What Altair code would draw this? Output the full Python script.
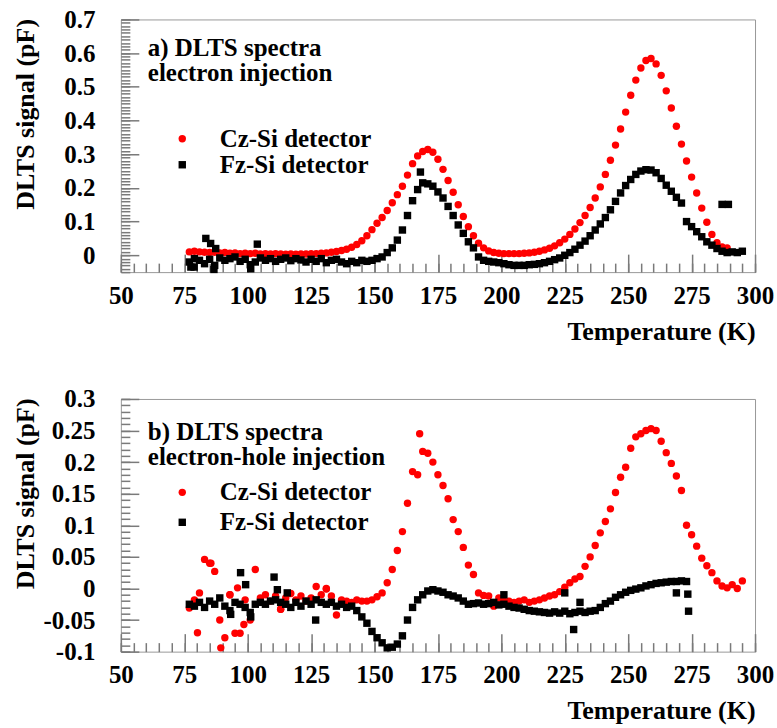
import altair as alt
import pandas as pd

# ---------------- data ----------------
DETS = ["Cz-Si detector", "Fz-Si detector"]

X_MAJOR = [50, 75, 100, 125, 150, 175, 200, 225, 250, 275, 300]
X_MINOR = list(range(50, 301, 5))
YA_MAJOR = [0, 0.1, 0.2, 0.3, 0.4, 0.5, 0.6, 0.7]
YA_MINOR = [round(i / 100, 2) for i in range(-5, 71)]
YB_MAJOR = [-0.1, -0.05, 0, 0.05, 0.1, 0.15, 0.2, 0.25, 0.3]
YB_MINOR = [round(i / 100, 2) for i in range(-10, 31)]

# panel a, Cz-Si (T = 77 ... 289 K, every 2 K)
A_CZ_T = list(range(77, 290, 2))
A_CZ_V = [0.010, 0.012, 0.010, 0.009, 0.008, 0.009, 0.007, 0.008, 0.006, 0.007,
          0.005, 0.006, 0.005, 0.006, 0.004, 0.005, 0.004, 0.005, 0.004, 0.003,
          0.004, 0.003, 0.004, 0.004, 0.005, 0.005, 0.006, 0.007, 0.009, 0.011,
          0.014, 0.018, 0.024, 0.032, 0.043, 0.058, 0.076, 0.095, 0.112, 0.133,
          0.156, 0.180, 0.205, 0.238, 0.272, 0.295, 0.308, 0.314, 0.306, 0.285,
          0.255, 0.222, 0.187, 0.150, 0.115, 0.085, 0.058, 0.036, 0.022, 0.013,
          0.008, 0.006, 0.005, 0.005, 0.005, 0.005, 0.006, 0.007, 0.009, 0.012,
          0.016, 0.021, 0.028, 0.037, 0.048, 0.062, 0.078, 0.097, 0.118, 0.142,
          0.170, 0.203, 0.240, 0.282, 0.327, 0.375, 0.425, 0.475, 0.520, 0.556,
          0.578, 0.584, 0.568, 0.534, 0.488, 0.437, 0.383, 0.330, 0.280, 0.232,
          0.185, 0.140, 0.098, 0.062, 0.037, 0.025, 0.022]

# panel a, Fz-Si (T = 77 ... 295 K, every 2 K) + scattered points
A_FZ_T = list(range(77, 296, 2))
A_FZ_V = [-0.020, -0.010, -0.015, -0.025, -0.012, -0.030, -0.008, -0.015, -0.010, -0.005,
          -0.018, -0.012, -0.028, -0.020, -0.008, -0.015, -0.010, -0.018, -0.012, -0.008,
          -0.016, -0.010, -0.014, -0.020, -0.012, -0.018, -0.010, -0.022, -0.015, -0.012,
          -0.020, -0.025, -0.018, -0.022, -0.015, -0.018, -0.015, -0.010, -0.005, 0.008,
          0.022, 0.045, 0.075, 0.118, 0.162, 0.195, 0.215, 0.212, 0.205, 0.188,
          0.170, 0.145, 0.118, 0.090, 0.065, 0.040, 0.022, -0.005, -0.015, -0.018,
          -0.020, -0.022, -0.025, -0.028, -0.030, -0.030, -0.030, -0.028, -0.027, -0.025,
          -0.022, -0.018, -0.013, -0.008, 0.000, 0.008, 0.018, 0.030, 0.042, 0.058,
          0.075, 0.093, 0.112, 0.135, 0.160, 0.185, 0.207, 0.225, 0.240, 0.250,
          0.254, 0.253, 0.245, 0.228, 0.208, 0.190, 0.172, 0.155, 0.100, 0.085,
          0.070, 0.055, 0.040, 0.030, 0.020, 0.012, 0.008, 0.010, 0.008, 0.012]
A_FZ_EXTRA_T = [77.6, 78.9, 83.5, 85.4, 87.4, 86.7, 101.2, 103.8, 168.1, 287.0, 289.5]
A_FZ_EXTRA_V = [-0.035, -0.035, 0.050, 0.035, 0.020, -0.042, -0.040, 0.033, 0.247, 0.151, 0.151]

# panel b, Cz-Si (T = 77 ... 295 K, every 2 K) + scattered points
B_CZ_T = list(range(77, 296, 2))
B_CZ_V = [-0.031, -0.018, -0.007, 0.046, 0.040, 0.027, -0.050, -0.078, -0.010, -0.071,
          -0.071, -0.018, -0.050, 0.030, -0.015, -0.010, -0.020, -0.012, -0.033, -0.015,
          -0.008, -0.018, -0.012, -0.020, -0.015, 0.003, -0.010, 0.000, -0.012, -0.042,
          -0.018, -0.020, -0.022, -0.018, -0.020, -0.020, -0.018, -0.013, -0.007, 0.009,
          0.030, 0.060, 0.090, 0.135, 0.185, 0.180, 0.217, 0.214, 0.200, 0.180,
          0.163, 0.142, 0.109, 0.090, 0.065, 0.037, 0.022, -0.007, -0.011, -0.012,
          -0.028, -0.015, -0.020, -0.020, -0.022, -0.020, -0.018, -0.022, -0.020, -0.018,
          -0.015, -0.012, -0.010, -0.005, 0.002, 0.009, 0.015, 0.019, 0.035, 0.050,
          0.068, 0.088, 0.106, 0.126, 0.152, 0.176, 0.192, 0.222, 0.240, 0.245,
          0.250, 0.253, 0.250, 0.233, 0.215, 0.198, 0.178, 0.155, 0.100, 0.085,
          0.067, 0.048, 0.036, 0.025, 0.012, 0.004, 0.001, 0.006, 0.000, 0.012]
B_CZ_EXTRA_T = [167.8, 80.2, 89.4, 98.5, 85.5, 93.0, 96.0, 131.0, 113.0]
B_CZ_EXTRA_V = [0.245, -0.070, -0.094, -0.057, 0.040, -0.010, 0.001, -0.001, -0.033]

# panel b, Fz-Si (T = 77 ... 273 K, every 2 K) + scattered points
B_FZ_T = list(range(77, 274, 2))
B_FZ_V = [-0.025, -0.028, -0.022, -0.030, -0.020, -0.025, -0.015, -0.028, -0.035, -0.022,
          -0.025, -0.030, -0.038, -0.025, -0.022, -0.025, -0.020, -0.018, -0.022, -0.025,
          -0.030, -0.022, -0.028, -0.020, -0.025, -0.018, -0.022, -0.025, -0.022, -0.028,
          -0.025, -0.030, -0.028, -0.035, -0.045, -0.055, -0.068, -0.078, -0.086, -0.094,
          -0.093, -0.088, -0.075, -0.050, -0.030, -0.018, -0.010, -0.004, -0.002, -0.004,
          -0.006, -0.010, -0.012, -0.015, -0.020, -0.025, -0.024, -0.023, -0.025, -0.024,
          -0.022, -0.026, -0.025, -0.028, -0.030, -0.031, -0.033, -0.035, -0.036, -0.037,
          -0.038, -0.039, -0.037, -0.039, -0.036, -0.040, -0.038, -0.036, -0.038, -0.036,
          -0.035, -0.030, -0.024, -0.020, -0.014, -0.010, -0.006, -0.003, -0.001, 0.001,
          0.004, 0.006, 0.008, 0.009, 0.010, 0.011, 0.011, 0.012, 0.011]
B_FZ_EXTRA_T = [93.3, 97.2, 99.2, 101.2, 110.4, 111.7, 115.6, 126.8, 201.0, 225.0,
                228.5, 231.0, 269.0, 273.5, 273.8]
B_FZ_EXTRA_V = [-0.041, 0.025, 0.006, -0.045, 0.018, -0.002, -0.007, -0.050, -0.010, -0.007,
                -0.065, -0.022, -0.007, -0.009, -0.036]

# ---------------- styling ----------------
FONT = "Liberation Serif"
W, H = 635, 253
MAJ, MIN = 18, 9
GRAY = "#999999"
TICK = "#7a7a7a"
LBL = dict(labelFont=FONT, labelFontSize=25, labelFontWeight="bold", labelColor="#000000")
TTL = dict(titleFont=FONT, titleFontSize=26, titleFontWeight="bold", titleColor="#000000")


def panel(cz_t, cz_v, fz_t, fz_v, ydom, ymaj, ymin, text, text_y, legend_y, row_pad):
    cz = pd.DataFrame({"T": cz_t, "v": cz_v, "det": DETS[0]})
    fz = pd.DataFrame({"T": fz_t, "v": fz_v, "det": DETS[1]})
    xs = alt.Scale(domain=[50, 300], nice=False, zero=False)
    ys = alt.Scale(domain=ydom, nice=False, zero=False)
    leg = alt.Legend(title=None, orient="none", legendX=49, legendY=legend_y,
                     labelFont=FONT, labelFontSize=25, labelFontWeight="bold",
                     labelColor="#000000", symbolSize=55, symbolStrokeWidth=0,
                     labelOffset=25, rowPadding=row_pad)
    color = alt.Color("det:N", scale=alt.Scale(domain=DETS, range=["#ff0000", "#000000"]), legend=leg)
    shape = alt.Shape("det:N", scale=alt.Scale(domain=DETS, range=["circle", "square"]), legend=leg)

    major_x = alt.Axis(orient="bottom", values=X_MAJOR, tickSize=MAJ, offset=-MAJ, domain=False,
                       grid=False, tickColor=TICK, tickWidth=1.5, labelPadding=11,
                       labelFlush=False, labelOverlap=False, labelExpr="'' + datum.value",
                       titleAnchor="end", titleAlign="right", titleBaseline="middle",
                       titleX=W, titleY=59 + MAJ, **LBL, **TTL)
    major_y = alt.Axis(orient="left", values=ymaj, tickSize=MAJ, offset=-MAJ, domain=False,
                       grid=False, tickColor=TICK, tickWidth=1.5, labelPadding=26,
                       labelFlush=False, labelOverlap=False, labelExpr="'' + datum.value",
                       titleAngle=-90, titleAlign="right", titleBaseline="middle",
                       titleX=-95 - MAJ, titleY=-1, **LBL, **TTL)
    minor_x = alt.Axis(orient="bottom", values=X_MINOR, tickSize=MIN, offset=-MIN, domain=False,
                       grid=False, tickColor=TICK, tickWidth=1.5, labels=False)
    minor_y = alt.Axis(orient="left", values=ymin, tickSize=MIN, offset=-MIN, domain=False,
                       grid=False, tickColor=TICK, tickWidth=1.5, labels=False)

    pts = dict(filled=True, opacity=1, size=55, strokeWidth=0)
    l_cz = alt.Chart(cz).mark_point(**pts).encode(
        x=alt.X("T:Q", scale=xs, axis=major_x, title="Temperature (K)"),
        y=alt.Y("v:Q", scale=ys, axis=major_y, title="DLTS signal (pF)"),
        color=color, shape=shape)
    l_fz = alt.Chart(fz).mark_point(**pts).encode(
        x=alt.X("T:Q", scale=xs, axis=minor_x, title=None),
        y=alt.Y("v:Q", scale=ys, axis=minor_y, title=None),
        color=color, shape=shape)
    l_txt = alt.Chart(pd.DataFrame({"t": [text]})).mark_text(
        align="left", baseline="middle", font=FONT, fontSize=25, fontWeight="bold",
        color="#000000", lineBreak="\n", lineHeight=25).encode(
        x=alt.value(27), y=alt.value(text_y), text="t:N")
    return alt.layer(l_cz, l_fz, l_txt).resolve_axis(x="independent", y="independent").properties(
        width=W, height=H)


pa = panel(A_CZ_T, A_CZ_V, A_FZ_T + A_FZ_EXTRA_T, A_FZ_V + A_FZ_EXTRA_V,
           [-0.05, 0.7], YA_MAJOR, YA_MINOR,
           "a) DLTS spectra\nelectron injection", 29, 107, 0)
pb = panel(B_CZ_T + B_CZ_EXTRA_T, B_CZ_V + B_CZ_EXTRA_V, B_FZ_T + B_FZ_EXTRA_T, B_FZ_V + B_FZ_EXTRA_V,
           [-0.1, 0.3], YB_MAJOR, YB_MINOR,
           "b) DLTS spectra\nelectron-hole injection", 33, 81, 4)

chart = alt.vconcat(pa, pb, spacing=41).resolve_scale(
    color="independent", shape="independent").properties(
    padding={"left": 12, "top": 6, "right": 2, "bottom": 2},
    background="#ffffff").configure_view(stroke=GRAY, strokeWidth=1)

chart.save("out.html", embed_options={"renderer": "svg", "actions": False})
